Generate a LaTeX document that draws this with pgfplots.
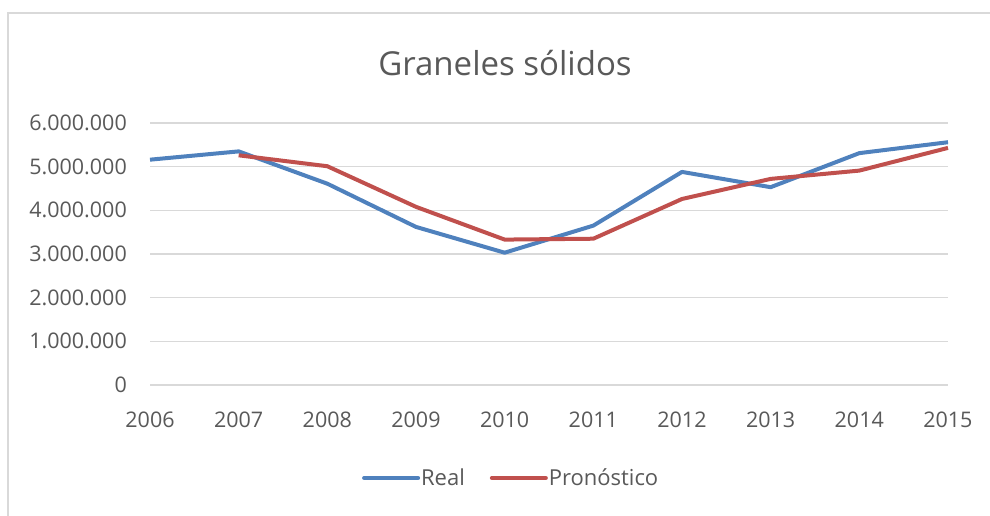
\documentclass[border=0pt]{standalone}
\usepackage{pgfplots}
\pgfplotsset{compat=1.18}
\usepackage{fontspec}
\setmainfont{Open Sans}
\definecolor{ctext}{HTML}{595959}
\definecolor{cgrid}{HTML}{D9D9D9}
\definecolor{cblue}{HTML}{4F81BD}
\definecolor{cred}{HTML}{C0504D}
\begin{document}
\begin{tikzpicture}
\useasboundingbox (0,0) rectangle (990bp,516bp);
\draw[cgrid, line width=2.5bp] (8bp,0bp) -- (8bp,503bp) -- (990bp,503bp);
\node[text=ctext, font=\fontsize{33bp}{38bp}\selectfont, anchor=center] at (505bp,453bp) {Graneles sólidos};
\begin{axis}[
  at={(150bp,131bp)}, anchor=south west,
  scale only axis, width=798bp, height=262bp,
  xmin=2006, xmax=2015, ymin=0, ymax=6000000,
  xtick={2006,...,2015},
  ytick={0,1000000,...,6000000},
  scaled y ticks=false,
  axis line style={draw=none},
  major tick length=0pt,
  ymajorgrids, grid style={cgrid, line width=1.3bp},
  /pgf/number format/assume math mode=true,
  tick label style={text=ctext, font=\fontsize{21.5bp}{25bp}\selectfont},
  yticklabel style={/pgf/number format/fixed, /pgf/number format/1000 sep={.}, anchor=east, inner sep=0pt, xshift=-23bp},
  xticklabel style={/pgf/number format/1000 sep={}, anchor=north, inner sep=0pt, yshift=-27bp},
  legend columns=2,
  legend style={draw=none, at={(0.452,-0.355)}, anchor=center, font=\fontsize{22bp}{25bp}\selectfont, text=ctext, column sep=0bp, inner sep=0pt,
    nodes={inner sep=1bp},
    /tikz/every even column/.append style={column sep=24bp}},
  legend image code/.code={\draw[#1, line cap=round] (0bp,0bp) -- (54bp,0bp);},
  every axis plot/.append style={line width=4bp, line join=round},
  clip=false,
]
\addplot[cblue, mark=none] coordinates {
 (2006,5160000) (2007,5350000) (2008,4610000) (2009,3620000) (2010,3030000)
 (2011,3650000) (2012,4880000) (2013,4530000) (2014,5310000) (2015,5560000)};
\addlegendentry{Real}
\addplot[cred, mark=none] coordinates {
 (2007,5260000) (2008,5010000) (2009,4080000) (2010,3330000)
 (2011,3350000) (2012,4260000) (2013,4720000) (2014,4910000) (2015,5430000)};
\addlegendentry{Pronóstico}
\end{axis}
\end{tikzpicture}
\end{document}
